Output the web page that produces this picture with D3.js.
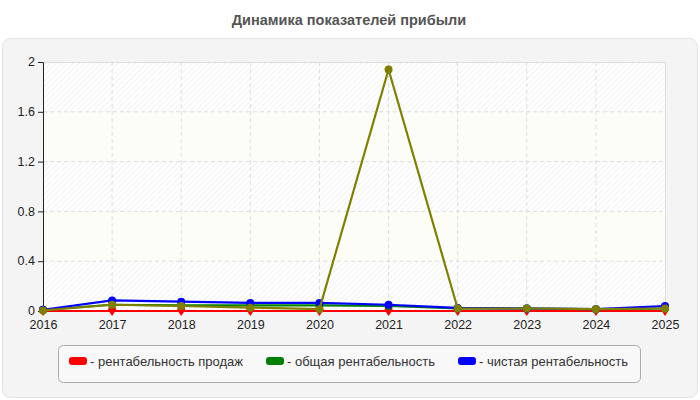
<!DOCTYPE html>
<html><head><meta charset="utf-8">
<script src="https://cdn.jsdelivr.net/npm/d3@7"></script>
<style>body{margin:0;background:#fff}svg{display:block;font-family:"Liberation Sans",Arial,sans-serif}</style>
</head><body><svg id="c" width="700" height="400"></svg>
<script>
const years = ["2016","2017","2018","2019","2020","2021","2022","2023","2024","2025"];
const salesProfit = [0,0,0,0,0,0,0,0,0,0];
const totalProfit = [0.01,0.05,0.045,0.045,0.045,0.04,0.02,0.02,0.015,0.02];
const netProfit = [0.01,0.085,0.075,0.065,0.065,0.05,0.025,0.02,0.015,0.04];
const otherProfit = [0.005,0.05,0.04,0.027,0.015,1.94,0.02,0.02,0.015,0.02];
const yTicks = [0,0.4,0.8,1.2,1.6,2];
const seriesNames = ["рентабельность продаж","общая рентабельность","чистая рентабельность"];
const seriesColors = ["#ff0000","#008000","#0000ff","#808000"];
const title = "Динамика показателей прибыли";
const FONT = "'Liberation Sans',Arial,sans-serif";

const svg = d3.select("#c");
const defs = svg.append("defs");
const pat = defs.append("pattern").attr("id","hatch").attr("patternUnits","userSpaceOnUse")
  .attr("width",4).attr("height",4).attr("patternTransform","rotate(45)");
pat.append("rect").attr("width",4).attr("height",4).attr("fill","#ffffff");
pat.append("line").attr("x1",0).attr("y1",0).attr("x2",0).attr("y2",4).attr("stroke","#ebebeb").attr("stroke-width",1.3);

svg.append("text").attr("x",349).attr("y",25).attr("text-anchor","middle")
  .attr("font-size",14.5).attr("font-weight","bold").attr("fill","#555").text(title);

svg.append("rect").attr("x",2.5).attr("y",38.5).attr("width",695).attr("height",359).attr("rx",8)
  .attr("fill","#f4f4f4").attr("stroke","#e4e4e4");

const x = d3.scalePoint().domain(years).range([43,665]);
const y = d3.scaleLinear().domain([0,2]).range([311,62]);

for (let i=0;i<yTicks.length-1;i++){
  svg.append("rect").attr("x",43).attr("width",622)
    .attr("y",y(yTicks[i+1])).attr("height",y(yTicks[i])-y(yTicks[i+1]))
    .attr("fill", i%2===0 ? "url(#hatch)" : "#fdfdf7");
}
svg.append("g").selectAll("line").data(yTicks.slice(1,-1)).join("line")
  .attr("x1",43).attr("x2",665).attr("y1",d=>y(d)).attr("y2",d=>y(d))
  .attr("stroke","#dddddd").attr("stroke-dasharray","4,3");
svg.append("g").selectAll("line").data(years.slice(1,-1)).join("line")
  .attr("y1",62).attr("y2",311).attr("x1",d=>x(d)).attr("x2",d=>x(d))
  .attr("stroke","#dddddd").attr("stroke-dasharray","4,3");
svg.append("line").attr("x1",43).attr("x2",665).attr("y1",62.5).attr("y2",62.5).attr("stroke","#dddddd");
svg.append("line").attr("x1",665.5).attr("x2",665.5).attr("y1",62).attr("y2",311).attr("stroke","#dddddd");

const xa = svg.append("g").attr("transform","translate(0,311)")
  .call(d3.axisBottom(x).tickSize(4).tickPadding(5));
xa.select(".domain").attr("stroke","#cccccc");
xa.selectAll(".tick line").attr("stroke","#bbbbbb");
xa.selectAll("text").attr("font-size",12.5).attr("fill","#222").attr("font-family",FONT);
const ya = svg.append("g").attr("transform","translate(43,0)")
  .call(d3.axisLeft(y).tickValues(yTicks).tickFormat(d3.format("")).tickSize(5).tickPadding(3));
ya.select(".domain").attr("stroke","#222");
ya.selectAll(".tick line").attr("stroke","#222");
ya.selectAll("text").attr("font-size",12.5).attr("fill","#222").attr("font-family",FONT).attr("dy","0.3em");

const allSeries = [salesProfit,totalProfit,netProfit,otherProfit];
const line = d3.line().x((d,i)=>x(years[i])).y(d=>y(d));
allSeries.forEach((s,k)=>{
  const g = svg.append("g");
  g.append("path").datum(s).attr("d",line).attr("fill","none")
    .attr("stroke",seriesColors[k]).attr("stroke-width",2.2);
  if (k===0){
    g.selectAll("path.m").data(s).join("path").attr("class","m")
      .attr("transform",(d,i)=>`translate(${x(years[i])},${y(d)})`)
      .attr("d","M-4,-1 A4,4 0 0 1 4,-1 L0,5 Z").attr("fill",seriesColors[k]);
  } else {
    g.selectAll("circle").data(s).join("circle")
      .attr("cx",(d,i)=>x(years[i])).attr("cy",d=>y(d)).attr("r",4).attr("fill",seriesColors[k]);
  }
});

svg.append("rect").attr("x",58.5).attr("y",345.5).attr("width",582).attr("height",37).attr("rx",5)
  .attr("fill","#f8f8f8").attr("stroke","#aaaaaa");
const legX = [69,266,458];
seriesNames.forEach((n,i)=>{
  svg.append("rect").attr("x",legX[i]).attr("y",357).attr("width",18).attr("height",8).attr("rx",3)
    .attr("fill",seriesColors[i]);
  svg.append("text").attr("x",legX[i]+21).attr("y",366).attr("font-size",13).attr("fill","#333")
    .text("- "+n);
});
</script></body></html>
